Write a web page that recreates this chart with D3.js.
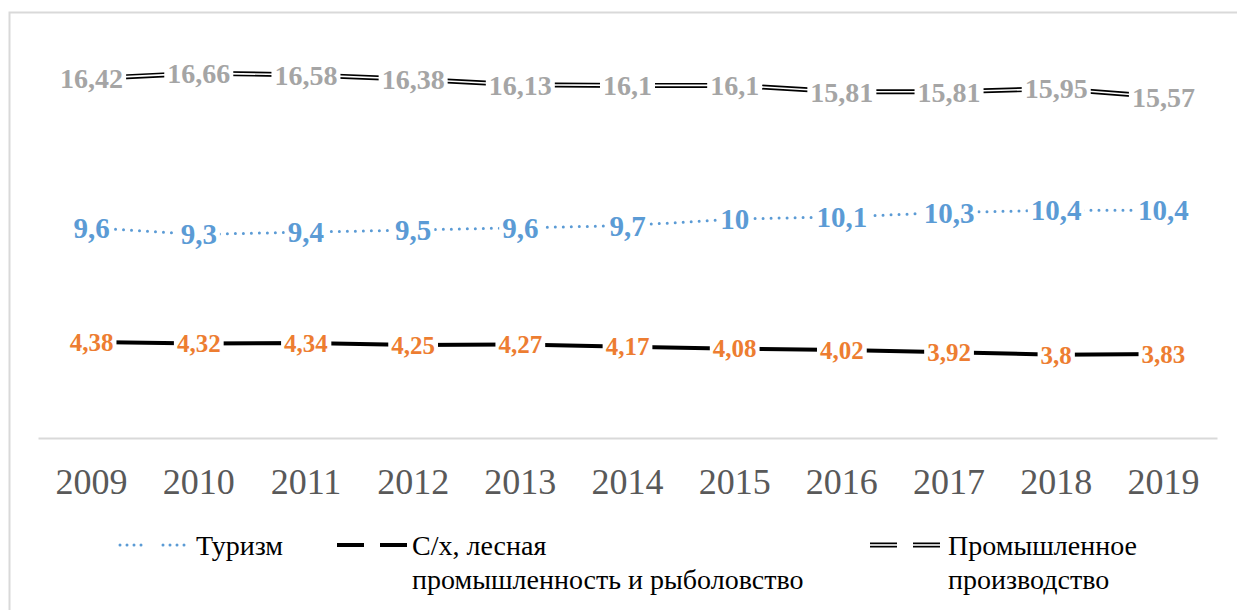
<!DOCTYPE html>
<html>
<head>
<meta charset="utf-8">
<script src="https://cdn.jsdelivr.net/npm/d3@7"></script>
<style>
  body { margin: 0; background: #fff; }
</style>
</head>
<body>
<svg id="chart" width="1237" height="610"></svg>
<script>
const years = ["2009","2010","2011","2012","2013","2014","2015","2016","2017","2018","2019"]
const tourism = [9.6, 9.3, 9.4, 9.5, 9.6, 9.7, 10, 10.1, 10.3, 10.4, 10.4]
const agriculture = [4.38, 4.32, 4.34, 4.25, 4.27, 4.17, 4.08, 4.02, 3.92, 3.8, 3.83]
const industry = [16.42, 16.66, 16.58, 16.38, 16.13, 16.1, 16.1, 15.81, 15.81, 15.95, 15.57]

const FONT = "Liberation Serif, Times New Roman, serif"
const svg = d3.select("#chart").attr("font-family", FONT)

// chart frame
svg.append("rect")
    .attr("x", 9.5).attr("y", 12.5)
    .attr("width", 1240).attr("height", 620)
    .attr("fill", "#fff")
    .attr("stroke", "#d9d9d9").attr("stroke-width", 2)

let xScale = d3.scaleBand().domain(years).range([38, 1217])
let cx = d => xScale(d) + xScale.bandwidth() / 2
let yScale = d3.scaleLinear().domain([0, 20]).range([438, 0])

// x axis
let xAxis = d3.axisBottom(xScale).tickSize(0).tickPadding(30)
let gx = svg.append("g").attr("transform", "translate(0,438)").call(xAxis)
gx.attr("font-family", FONT)
gx.select(".domain").attr("stroke", "#d9d9d9").attr("stroke-width", 2)
gx.selectAll("text")
    .attr("font-family", FONT)
    .attr("font-size", 36).attr("fill", "#595959")

let series = [
    {name: "tourism", values: tourism, color: "#5b9bd5", size: 29},
    {name: "agriculture", values: agriculture, color: "#ed7d31", size: 25},
    {name: "industry", values: industry, color: "#a5a5a5", size: 28}
]

let line = d3.line()
    .x((d, i) => cx(years[i]))
    .y(d => yScale(d))

// lines
svg.append("path").datum(tourism).attr("d", line)
    .attr("fill", "none").attr("stroke", "#5b9bd5")
    .attr("stroke-width", 3).attr("stroke-linecap", "round")
    .attr("stroke-dasharray", "0 8")
svg.append("path").datum(agriculture).attr("d", line)
    .attr("fill", "none").attr("stroke", "#000").attr("stroke-width", 4)
svg.append("path").datum(industry).attr("d", line)
    .attr("fill", "none").attr("stroke", "#000").attr("stroke-width", 5)
svg.append("path").datum(industry).attr("d", line)
    .attr("fill", "none").attr("stroke", "#fff").attr("stroke-width", 1.6)

// data labels with white background
function fmt(v) { return String(v).replace(".", ",") }
for (let s of series) {
    let g = svg.append("g").attr("class", "labels-" + s.name)
    s.values.forEach((v, i) => {
        let lg = g.append("g")
        let rect = lg.append("rect").attr("fill", "#fff")
        let t = lg.append("text")
            .attr("x", cx(years[i])).attr("y", yScale(v))
            .attr("dy", "0.35em")
            .attr("text-anchor", "middle")
            .attr("font-family", FONT)
            .attr("font-weight", "bold")
            .attr("font-size", s.size)
            .attr("fill", s.color)
            .text(fmt(v))
        let b = t.node().getBBox()
        rect.attr("x", b.x - 3).attr("y", b.y + 4)
            .attr("width", b.width + 6).attr("height", b.height - 8)
    })
}

// legend
let legend = [
    {label: ["Туризм"], x: 120, textX: 196, kind: "dot"},
    {label: ["С/х, лесная", "промышленность и рыболовство"], x: 337, textX: 412, kind: "solid"},
    {label: ["Промышленное", "производство"], x: 870, textX: 948, kind: "double"}
]
let ly = 545
for (let item of legend) {
    let segs = [[item.x, item.x + 27], [item.x + 43, item.x + 70]]
    for (let sg of segs) {
        let p = d3.path(); p.moveTo(sg[0], ly); p.lineTo(sg[1], ly)
        if (item.kind === "dot") {
            svg.append("path").attr("d", p.toString()).attr("stroke", "#5b9bd5")
                .attr("stroke-width", 3).attr("stroke-linecap", "round")
                .attr("stroke-dasharray", "0 7")
        } else if (item.kind === "solid") {
            svg.append("path").attr("d", p.toString()).attr("stroke", "#000").attr("stroke-width", 4)
        } else {
            svg.append("path").attr("d", p.toString()).attr("stroke", "#000").attr("stroke-width", 5)
            svg.append("path").attr("d", p.toString()).attr("stroke", "#fff").attr("stroke-width", 1.6)
        }
    }
    let t = svg.append("text").attr("x", item.textX).attr("y", ly + 10)
        .attr("font-family", FONT)
        .attr("font-size", 28).attr("fill", "#000")
    item.label.forEach((l, i) => {
        t.append("tspan").attr("x", item.textX).attr("dy", i === 0 ? 0 : 34).text(l)
    })
}
</script>
</body>
</html>
